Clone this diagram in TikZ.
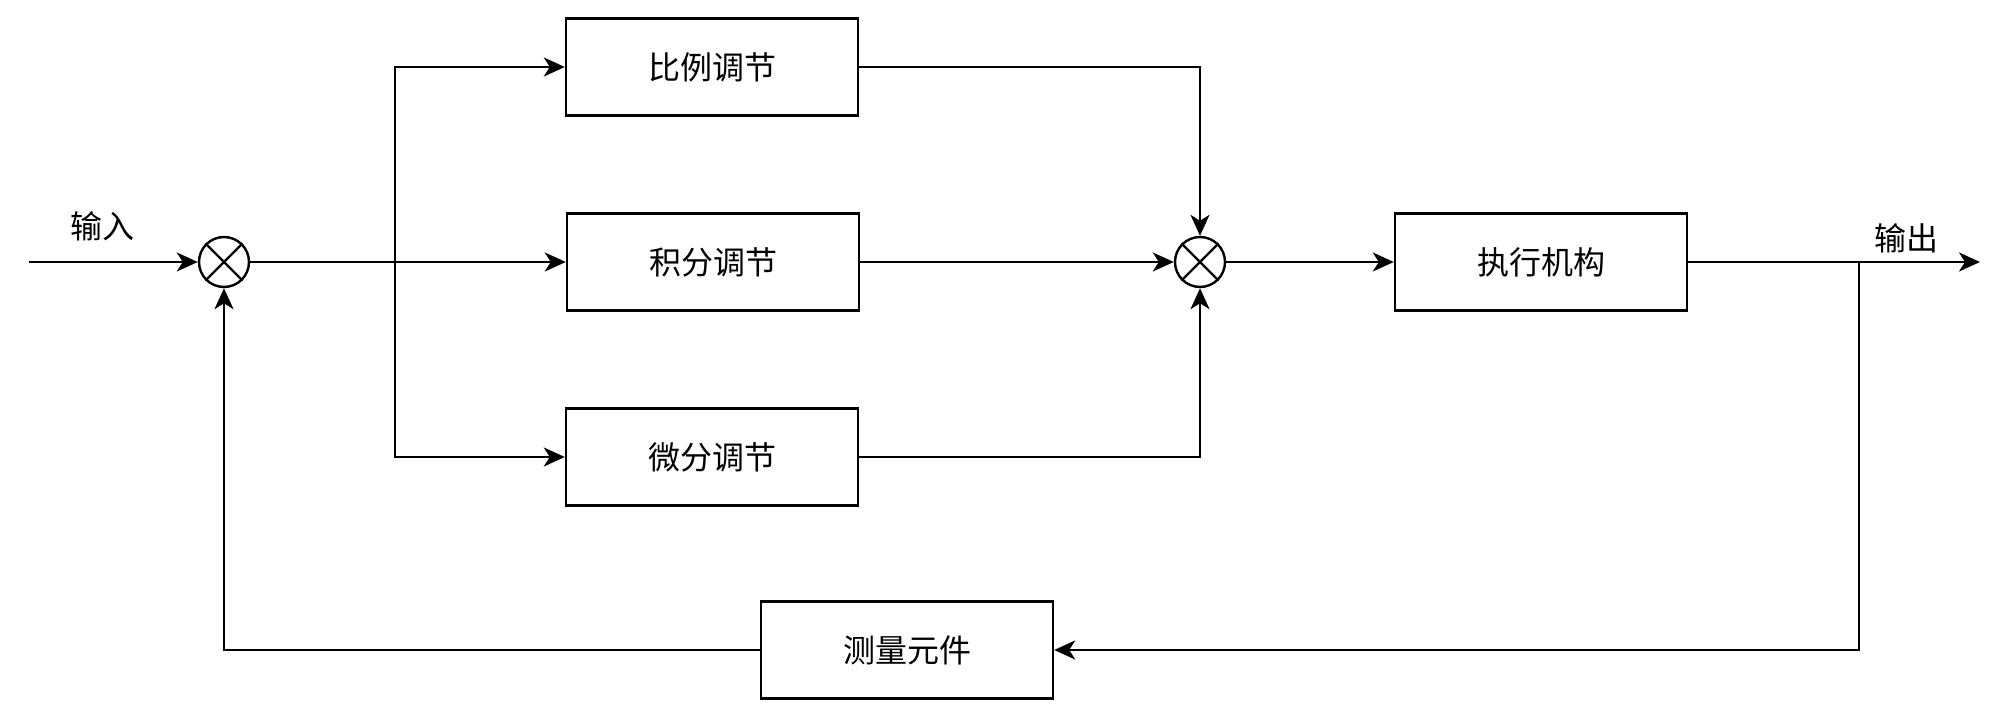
\documentclass[tikz,border=0pt]{standalone}
\usepackage{fontspec}
\setmainfont{Noto Sans CJK SC}
\usetikzlibrary{arrows.meta,positioning}
\begin{document}
\begin{tikzpicture}[x=1pt,y=-1pt,
  line width=2.4pt,
  every node/.style={font=\fontsize{32}{36}\selectfont},
  blk/.style={draw,rectangle,minimum width=292pt,minimum height=97pt,inner sep=0pt},
  sumc/.style={draw,circle,minimum size=50pt,inner sep=0pt},
  arr/.style={-{Stealth[length=21pt,width=19pt,inset=6pt]}},
  lbl/.style={inner sep=0pt}]
\useasboundingbox (0,0) rectangle (2000,711);
\node[sumc] (s1) at (224,262) {};
\node[sumc] (s2) at (1200,262) {};
\foreach \s in {s1,s2}{
  \draw (\s.north west) -- (\s.south east);
  \draw (\s.north east) -- (\s.south west);
}
\node[blk] (p) at (712,67) {比例调节};
\node[blk] (i) at (713,262) {积分调节};
\node[blk] (d) at (712,457) {微分调节};
\node[blk] (e) at (1541,262) {执行机构};
\node[blk] (m) at (907,650) {测量元件};
\coordinate (in) at (29,262);
\coordinate (out) at (1980,262);
\coordinate (br) at (395,262);
\coordinate (fb) at (1859,262);
\node[lbl] (lin) at (102,226) {输入};
\node[lbl] (lout) at (1906,238) {输出};
% input
\draw[arr] (in) -- (s1.west);
% branches
\draw[arr] (s1.east) -- (i.west);
\draw[arr] (br) |- (p.west);
\draw[arr] (br) |- (d.west);
% to sum2
\draw[arr] (i.east) -- (s2.west);
\draw[arr] (p.east) -| (s2.north);
\draw[arr] (d.east) -| (s2.south);
\draw[arr] (s2.east) -- (e.west);
% output
\draw[arr] (e.east) -- (out);
\draw[arr] (fb) |- (m.east);
\draw[arr] (m.west) -| (s1.south);
\end{tikzpicture}
\end{document}
